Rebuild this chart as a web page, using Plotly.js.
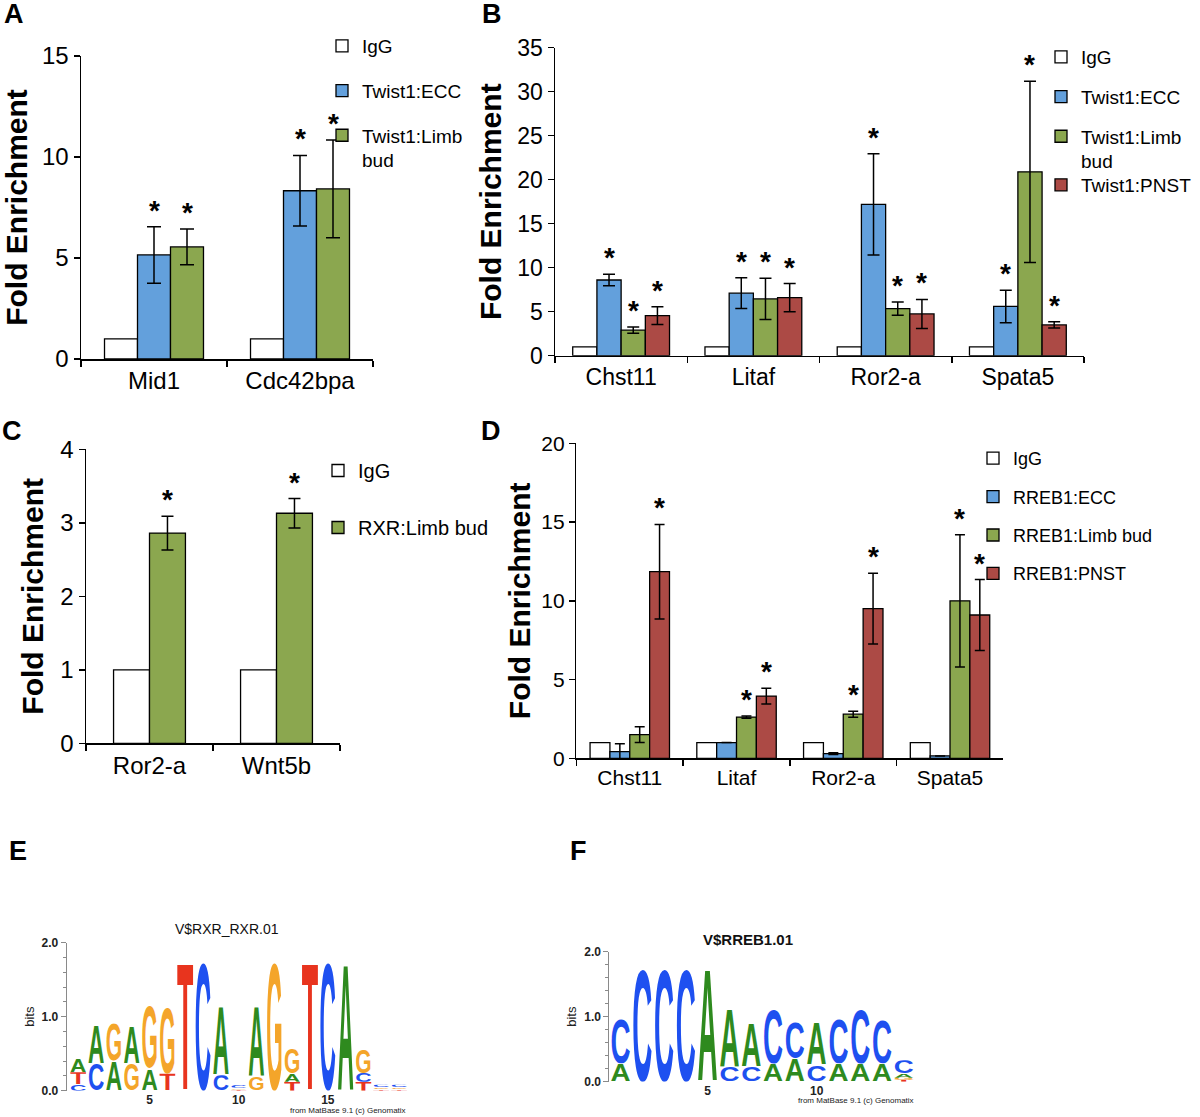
<!DOCTYPE html>
<html><head><meta charset="utf-8">
<script src="https://cdn.plot.ly/plotly-3.0.1.min.js"></script>
<style>html,body{margin:0;padding:0;background:#fff}#chart{width:1200px;height:1117px}</style>
</head><body><div id="chart"></div>
<script>
// ================= DATA =================
// Panel A
const aGenes = ['Mid1', 'Cdc42bpa'];
const aIgG = [1, 1];
const aECC = [5.15, 8.33];
const aECCErr = [1.4, 1.75];
const aLimb = [5.55, 8.42];
const aLimbErr = [0.88, 2.42];
const aECCStar = [true, true];
const aLimbStar = [true, true];

// Panel B
const bGenes = ['Chst11', 'Litaf', 'Ror2-a', 'Spata5'];
const bIgG = [1, 1, 1, 1];
const bECC = [8.6, 7.1, 17.2, 5.6];
const bECCErr = [0.65, 1.75, 5.75, 1.85];
const bLimb = [2.9, 6.45, 5.35, 20.9];
const bLimbErr = [0.35, 2.35, 0.75, 10.3];
const bPNST = [4.55, 6.6, 4.75, 3.5];
const bPNSTErr = [1.0, 1.6, 1.65, 0.35];
const bECCStar = [true, true, true, true];
const bLimbStar = [true, true, true, true];
const bPNSTStar = [true, true, true, true];

// Panel C
const cGenes = ['Ror2-a', 'Wnt5b'];
const cIgG = [1, 1];
const cRXR = [2.86, 3.13];
const cRXRErr = [0.23, 0.2];
const cRXRStar = [true, true];

// Panel D
const dGenes = ['Chst11', 'Litaf', 'Ror2-a', 'Spata5'];
const dIgG = [1, 1, 1, 1];
const dECC = [0.42, 1.0, 0.3, 0.15];
const dECCErr = [0.5, 0, 0.06, 0];
const dLimb = [1.5, 2.62, 2.8, 10.0];
const dLimbErr = [0.5, 0.07, 0.19, 4.2];
const dPNST = [11.85, 3.95, 9.5, 9.1];
const dPNSTErr = [3.0, 0.5, 2.25, 2.25];
const dECCStar = [false, false, false, false];
const dLimbStar = [false, true, true, true];
const dPNSTStar = [true, true, true, true];

// Panel E: sequence logo V$RXR_RXR.01 (letters bottom -> top, heights in bits)
const eLetters = [['C','T','A'],['C','A'],['A','G'],['G','A'],['A','G'],['T','G'],['T'],['C'],['C','A'],['T','G','C'],
                  ['G','A'],['G'],['T','A','G'],['T'],['C'],['A'],['T','C','G'],['T','G','C'],['T','G','C']];
const eHeights = [[0.09,0.16,0.18],[0.37,0.54],[0.40,0.51],[0.37,0.52],[0.30,0.86],[0.23,0.92],[1.79],[1.79],[0.21,0.95],[0.015,0.025,0.04],
                  [0.19,0.97],[1.79],[0.12,0.11,0.34],[1.79],[1.79],[1.77],[0.12,0.12,0.33],[0.02,0.025,0.035],[0.02,0.025,0.035]];
const eTitle = 'V$RXR_RXR.01';

// Panel F: sequence logo V$RREB1.01
const fLetters = [['A','C'],['C'],['C'],['C'],['A'],['C','A'],['C','A'],['A','C'],['A','C'],['C','A'],['A','C'],['A','C'],['A','C'],['T','G','A','C']];
const fHeights = [[0.28,0.72],[1.79],[1.79],[1.79],[1.78],[0.23,0.92],[0.23,0.69],[0.28,0.87],[0.36,0.56],[0.26,0.67],[0.28,0.72],[0.28,0.87],[0.28,0.69],[0.03,0.03,0.07,0.2]];
const fTitle = 'V$RREB1.01';

const logoTicks = [5, 10, 15];
const bitsTicks = [0, 1, 2];
const bitsTickText = ['0.0', '1.0', '2.0'];
const credit = 'from MatBase 9.1 (c) Genomatix';

// ================= STYLE =================
const W = 1200, H = 1117;
const FONT = 'Liberation Sans, Arial, Helvetica, sans-serif';
const COL = {igg: '#ffffff', ecc: '#63A0DC', limb: '#8BA74F', pnst: '#AC4A45'};
const LOGOCOL = {A: '#2E8A1E', C: '#1E50F0', G: '#F4A52A', T: '#E8341E'};
const px = v => v / W;
const py = v => 1 - v / H;

const traces = [];
const annotations = [];

function panel(p) {
  const n = p.series.length;
  p.series.forEach((s, i) => {
    const off = -n * p.w / 2 + i * p.w;
    const hasErr = !!s.errs;
    const lg = s.legend || p.legend;
    traces.push({
      type: 'bar', x: p.genes, y: s.vals, name: s.name,
      xaxis: p.xa, yaxis: p.ya, legend: lg, legendgroup: lg + '_' + i,
      width: p.w, offset: off,
      marker: {color: s.color, line: {color: '#000', width: 1.3}},
      error_y: hasErr ? {type: 'data', array: s.errs, visible: true, color: '#000', thickness: 1.5, width: p.cap} : {visible: false},
      hoverinfo: 'x+y+name'
    });
    if (s.stars) {
      s.stars.forEach((st, k) => {
        if (!st) return;
        annotations.push({
          xref: p.xa, yref: p.ya, x: k + off + p.w / 2, y: s.vals[k] + (hasErr ? s.errs[k] : 0),
          text: '*', showarrow: false, yanchor: 'bottom', xanchor: 'center', yshift: -1,
          font: {family: FONT, size: 28, color: '#000', weight: 'bold'}
        });
      });
    }
  });
}

panel({xa: 'x', ya: 'y', legend: 'legend', genes: aGenes, w: 0.226, cap: 7, series: [
  {name: 'IgG', vals: aIgG, color: COL.igg},
  {name: 'Twist1:ECC', vals: aECC, errs: aECCErr, stars: aECCStar, color: COL.ecc},
  {name: 'Twist1:Limb<br>bud', vals: aLimb, errs: aLimbErr, stars: aLimbStar, color: COL.limb}]});
panel({xa: 'x2', ya: 'y2', legend: 'legend2', genes: bGenes, w: 0.183, cap: 6, series: [
  {name: 'IgG', vals: bIgG, color: COL.igg},
  {name: 'Twist1:ECC', vals: bECC, errs: bECCErr, stars: bECCStar, color: COL.ecc},
  {name: 'Twist1:Limb<br>bud', vals: bLimb, errs: bLimbErr, stars: bLimbStar, color: COL.limb},
  {name: 'Twist1:PNST', vals: bPNST, errs: bPNSTErr, stars: bPNSTStar, color: COL.pnst, legend: 'legend5'}]});
panel({xa: 'x3', ya: 'y3', legend: 'legend3', genes: cGenes, w: 0.283, cap: 6, series: [
  {name: 'IgG', vals: cIgG, color: COL.igg},
  {name: 'RXR:Limb bud', vals: cRXR, errs: cRXRErr, stars: cRXRStar, color: COL.limb}]});
panel({xa: 'x4', ya: 'y4', legend: 'legend4', genes: dGenes, w: 0.186, cap: 5, series: [
  {name: 'IgG', vals: dIgG, color: COL.igg},
  {name: 'RREB1:ECC', vals: dECC, errs: dECCErr, stars: dECCStar, color: COL.ecc},
  {name: 'RREB1:Limb bud', vals: dLimb, errs: dLimbErr, stars: dLimbStar, color: COL.limb},
  {name: 'RREB1:PNST', vals: dPNST, errs: dPNSTErr, stars: dPNSTStar, color: COL.pnst}]});

// ---- sequence logos as stretched glyph images placed on data axes ----
const ADV = {A: 72.2, C: 72.2, G: 77.8, T: 61.1};
function glyph(ch) {
  const w = ADV[ch];
  const svg = '<svg xmlns="http://www.w3.org/2000/svg" width="100" height="100" viewBox="0 27.6 ' + w + ' 73.6" preserveAspectRatio="none">' +
    '<text x="0" y="100" font-family="Liberation Sans, Arial, Helvetica, sans-serif" font-weight="bold" font-size="100" fill="' + LOGOCOL[ch] +
    '" textLength="' + w + '" lengthAdjust="spacingAndGlyphs">' + ch + '</text></svg>';
  return 'data:image/svg+xml;charset=utf-8,' + encodeURIComponent(svg);
}
const images = [];
function logo(letters, heights, xa, ya) {
  letters.forEach((stack, i) => {
    let cum = 0;
    stack.forEach((ch, j) => {
      const h = heights[i][j];
      images.push({source: glyph(ch), xref: xa, yref: ya, x: i + 1 - 0.46, y: cum + h,
        sizex: 0.92, sizey: h, sizing: 'stretch', xanchor: 'left', yanchor: 'top', layer: 'above'});
      cum += h;
    });
  });
  traces.push({type: 'scatter', x: [1, letters.length], y: [0, 0], xaxis: xa, yaxis: ya, mode: 'lines',
    line: {width: 0}, showlegend: false, hoverinfo: 'skip'});
}
logo(eLetters, eHeights, 'x5', 'y5');
logo(fLetters, fHeights, 'x6', 'y6');

// ---- text annotations ----
const panelLabels = [['A', 14, 14], ['B', 492, 14], ['C', 12, 431], ['D', 491, 431], ['E', 18, 851], ['F', 578, 851]];
panelLabels.forEach(([t, x, y]) => annotations.push({xref: 'paper', yref: 'paper', x: px(x), y: py(y), text: t, showarrow: false,
  xanchor: 'center', yanchor: 'middle', font: {family: FONT, size: 27, color: '#000', weight: 'bold'}}));
annotations.push({xref: 'paper', yref: 'paper', x: px(227), y: py(929), text: eTitle, showarrow: false,
  xanchor: 'center', yanchor: 'middle', font: {family: FONT, size: 14, color: '#111'}});
annotations.push({xref: 'paper', yref: 'paper', x: px(748), y: py(939), text: fTitle, showarrow: false,
  xanchor: 'center', yanchor: 'middle', font: {family: FONT, size: 15, color: '#111', weight: 'bold'}});
annotations.push({xref: 'paper', yref: 'paper', x: px(408), y: py(1110), text: credit, showarrow: false,
  xanchor: 'right', yanchor: 'middle', font: {family: FONT, size: 8, color: '#222'}});
annotations.push({xref: 'paper', yref: 'paper', x: px(916), y: py(1100), text: credit, showarrow: false,
  xanchor: 'right', yanchor: 'middle', font: {family: FONT, size: 8, color: '#222'}});

// ---- axes ----
function catX(d0, d1, anchor, fs) {
  return {domain: [px(d0), px(d1)], anchor: anchor, type: 'category', showline: true, linecolor: '#000', linewidth: 1.5,
    ticks: 'outside', tickson: 'boundaries', ticklen: 6, tickwidth: 1.5, tickcolor: '#000', showgrid: false, zeroline: false,
    tickfont: {family: FONT, size: fs, color: '#000'}, fixedrange: true};
}
function valY(top, bot, anchor, max, dt, fs, standoff) {
  return {domain: [py(bot), py(top)], anchor: anchor, range: [0, max], dtick: dt, showline: true, linecolor: '#000', linewidth: 1.5,
    ticks: 'outside', ticklen: 6, tickwidth: 1.5, tickcolor: '#000', showgrid: false, zeroline: false,
    tickfont: {family: FONT, size: fs, color: '#000'}, fixedrange: true,
    title: {text: 'Fold Enrichment', standoff: standoff, font: {family: FONT, size: 30, color: '#000', weight: 'bold'}}};
}
function logoX(d0, d1, anchor, r0, r1) {
  return {domain: [px(d0), px(d1)], anchor: anchor, range: [r0, r1], showline: false, showgrid: false, zeroline: false,
    tickvals: logoTicks, ticks: '', tickfont: {family: FONT, size: 12, color: '#222', weight: 'bold'}, fixedrange: true};
}
function logoY(top, bot, anchor) {
  return {domain: [py(bot), py(top)], anchor: anchor, range: [0, 2], showline: true, linecolor: '#8a8a8a', linewidth: 1,
    tickvals: bitsTicks, ticktext: bitsTickText, ticks: 'outside', ticklen: 5, tickcolor: '#8a8a8a',
    minor: {dtick: 0.2, ticks: 'outside', ticklen: 3, tickcolor: '#8a8a8a', showgrid: false},
    showgrid: false, zeroline: false, tickfont: {family: FONT, size: 12, color: '#222', weight: 'bold'}, fixedrange: true,
    title: {text: 'bits', standoff: 4, font: {family: FONT, size: 13, color: '#222'}}};
}

function legendAt(x, y, gap, fs) {
  return {x: px(x), y: py(y), xanchor: 'left', yanchor: 'top', bgcolor: 'rgba(0,0,0,0)', borderwidth: 0, valign: 'top',
    traceorder: 'grouped', tracegroupgap: gap, itemwidth: 30, font: {family: FONT, size: fs, color: '#000'}};
}

const layout = {
  width: W, height: H, margin: {l: 0, r: 0, t: 0, b: 0}, paper_bgcolor: '#fff', plot_bgcolor: 'rgba(0,0,0,0)',
  barmode: 'group', font: {family: FONT, color: '#000'}, showlegend: true,
  xaxis: catX(81, 373, 'y', 24), yaxis: valY(56, 359, 'x', 15, 5, 24, 18),
  xaxis2: catX(555, 1084, 'y2', 23), yaxis2: valY(47.7, 355.7, 'x2', 35, 5, 23, 7),
  xaxis3: catX(86, 340, 'y3', 24), yaxis3: valY(449.3, 743.3, 'x3', 4, 1, 24, 8),
  xaxis4: catX(576.4, 1003.4, 'y4', 21), yaxis4: valY(443.3, 758.3, 'x4', 20, 5, 21, 2),
  xaxis5: logoX(66.7, 408, 'y5', 0.35, 19.5), yaxis5: logoY(942.7, 1090.7, 'x5'),
  xaxis6: logoX(609.3, 916.7, 'y6', 0.49, 14.59), yaxis6: logoY(951.7, 1081.7, 'x6'),
  legend: legendAt(322, 27, 17, 19),
  legend2: legendAt(1041, 38, 12, 19),
  legend5: legendAt(1041, 166, 13, 19),
  legend3: legendAt(318, 451, 28, 20),
  legend4: legendAt(973, 440, 12, 18),
  annotations: annotations,
  images: images
};

Plotly.newPlot('chart', traces, layout, {displayModeBar: false, staticPlot: true});
</script></body></html>
